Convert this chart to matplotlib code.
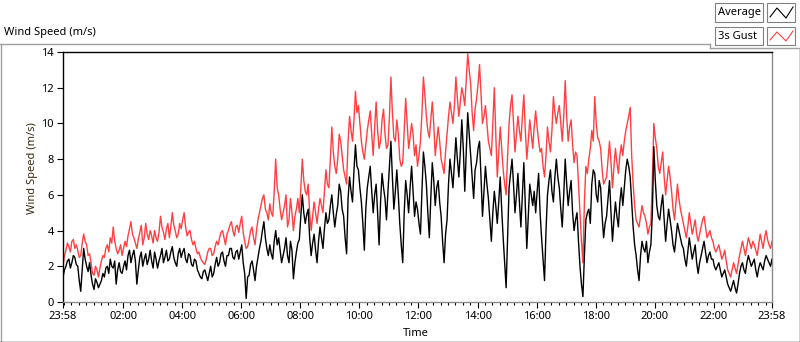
import matplotlib
matplotlib.use('Agg')
import matplotlib.pyplot as plt
import matplotlib.dates as mdates
from matplotlib.lines import Line2D
from matplotlib.patches import Rectangle
from datetime import datetime, timedelta

# ---------------- data (3-minute samples, 23:58 -> 23:58 next day) ----------------
start_time = datetime(2024, 1, 1, 23, 58)
step_minutes = 3

average = [
    1.4, 1.8, 2.0, 2.3, 2.4, 1.9, 2.2, 2.6, 2.5, 2.1, 2.0, 1.2, 0.6, 1.8, 3.0, 2.4, 2.0, 1.7, 2.2, 1.5,
    1.0, 0.7, 1.3, 1.1, 0.8, 1.0, 1.2, 1.6, 1.4, 1.9, 2.0, 1.6, 2.4, 2.0, 1.9, 2.3, 1.0, 1.8, 2.2, 1.7,
    1.6, 2.0, 2.3, 1.8, 2.6, 2.9, 2.2, 2.6, 2.9, 2.3, 1.0, 1.8, 2.5, 2.8, 2.0, 2.4, 2.7, 2.1, 2.4, 2.9,
    2.3, 1.9, 2.8, 2.4, 1.9, 2.3, 2.6, 3.0, 2.2, 2.5, 2.9, 2.3, 2.4, 2.8, 3.1, 2.5, 2.2, 2.0, 2.7, 3.0,
    2.5, 2.8, 3.0, 2.4, 2.2, 2.7, 2.6, 2.1, 2.0, 2.4, 2.3, 1.8, 1.6, 1.4, 1.3, 1.7, 1.8, 1.5, 1.2, 1.6,
    2.0, 1.4, 1.6, 2.1, 2.5, 2.0, 2.2, 2.7, 2.8, 2.3, 2.0, 2.6, 2.6, 3.0, 3.0, 2.5, 2.4, 2.8, 2.9, 2.4,
    2.8, 3.2, 2.2, 1.6, 0.2, 1.4, 1.5, 2.1, 2.3, 1.8, 1.2, 2.0, 2.5, 3.0, 3.4, 4.0, 4.5, 3.6, 3.0, 2.6,
    3.2, 2.7, 2.4, 3.4, 4.0, 3.2, 3.6, 2.9, 2.2, 2.6, 3.0, 3.6, 2.6, 2.2, 3.4, 2.9, 1.3, 2.2, 2.8, 3.3,
    3.5, 4.8, 6.0, 5.0, 4.4, 4.9, 5.2, 3.6, 2.6, 3.3, 3.8, 2.9, 2.2, 3.4, 4.2, 3.6, 3.0, 4.1, 5.0, 4.4,
    4.6, 5.4, 6.0, 5.0, 4.2, 4.9, 5.4, 6.6, 6.2, 5.2, 4.8, 3.6, 2.7, 5.8, 7.0, 6.2, 5.6, 7.4, 8.8, 7.6,
    7.4, 6.4, 5.6, 4.4, 2.9, 5.2, 6.4, 7.0, 7.6, 6.2, 5.0, 6.0, 6.6, 5.0, 3.2, 5.6, 7.2, 6.4, 5.8, 4.6,
    6.2, 7.6, 9.0, 7.0, 5.2, 6.2, 7.4, 6.0, 4.4, 3.2, 2.2, 5.0, 6.8, 6.0, 5.0, 6.4, 7.6, 6.2, 4.8, 5.6,
    5.2, 4.4, 3.8, 6.2, 8.4, 7.6, 6.6, 5.0, 3.6, 5.8, 7.8, 6.8, 5.4, 6.4, 6.8, 5.6, 4.8, 3.4, 2.2, 3.8,
    4.6, 6.6, 8.0, 7.2, 6.4, 7.8, 9.2, 8.0, 7.0, 8.4, 10.2, 8.6, 6.2, 8.4, 10.6, 9.4, 8.2, 7.0, 5.8, 7.4,
    7.8, 8.6, 9.0, 7.0, 4.8, 6.2, 7.6, 6.6, 5.8, 4.6, 3.4, 5.0, 6.2, 5.4, 4.4, 5.6, 7.0, 5.2, 3.6, 2.2,
    0.8, 3.6, 6.4, 7.2, 8.0, 6.6, 5.0, 6.0, 7.2, 5.6, 4.2, 6.0, 7.8, 5.4, 3.0, 4.8, 6.6, 6.0, 5.4, 6.2,
    5.0, 6.2, 7.2, 5.0, 3.6, 2.4, 1.2, 4.0, 6.0, 6.8, 7.4, 6.2, 5.6, 7.0, 8.0, 7.0, 6.4, 5.2, 4.2, 6.0,
    8.0, 6.6, 5.4, 6.2, 6.8, 5.0, 4.0, 4.6, 5.0, 3.4, 2.0, 1.0, 0.3, 2.6, 4.6, 5.0, 5.2, 4.4, 6.6, 7.4,
    7.2, 6.0, 5.6, 6.8, 6.4, 4.8, 3.6, 4.4, 4.8, 5.8, 6.8, 5.0, 3.4, 4.6, 5.6, 4.8, 4.2, 5.6, 6.4, 5.4,
    6.4, 7.4, 8.0, 7.6, 7.0, 5.6, 4.2, 3.2, 2.6, 1.8, 1.2, 2.6, 3.4, 3.0, 2.8, 3.4, 2.2, 2.8, 3.2, 5.0,
    8.7, 6.8, 5.4, 4.8, 4.6, 5.4, 6.0, 4.6, 3.4, 4.4, 5.2, 4.6, 4.0, 3.2, 2.8, 3.6, 4.4, 4.0, 3.6, 3.2,
    3.0, 2.4, 2.0, 2.8, 3.6, 3.0, 2.4, 2.8, 3.2, 2.2, 1.6, 2.2, 2.6, 3.0, 3.4, 2.8, 2.2, 2.6, 2.8, 2.4,
    2.4, 2.0, 1.8, 2.0, 2.2, 1.8, 1.4, 1.6, 1.8, 1.4, 1.0, 0.8, 0.6, 0.9, 1.2, 0.8, 0.5, 1.0, 1.6, 2.0,
    2.2, 1.8, 1.6, 2.2, 2.6, 2.3, 2.0, 2.2, 2.4, 1.8, 1.4, 1.9, 2.2, 2.0, 1.8, 2.3, 2.6, 2.4, 2.2, 2.0, 2.4,
]

gust_3s = [
    2.0, 2.6, 2.9, 3.3, 3.1, 2.8, 3.4, 3.5, 3.0, 3.2, 2.9, 2.5, 2.6, 3.3, 3.8, 3.4, 3.2, 2.6, 2.7, 2.2,
    1.6, 1.5, 2.0, 1.8, 1.4, 1.9, 2.3, 2.6, 2.5, 3.0, 3.2, 2.8, 3.6, 3.3, 4.2, 3.4, 3.0, 2.7, 2.9, 3.2,
    2.6, 3.0, 3.4, 3.1, 3.7, 4.1, 4.5, 3.8, 3.6, 3.3, 3.0, 3.5, 3.9, 4.3, 3.2, 3.6, 4.4, 3.8, 3.5, 4.0,
    3.7, 3.3, 4.0, 3.6, 3.4, 3.9, 4.8, 4.2, 3.9, 3.5, 4.1, 4.4, 3.6, 4.2, 5.0, 4.3, 4.0, 3.6, 3.8, 4.4,
    4.1, 4.6, 5.0, 4.2, 3.7, 3.9, 4.0, 3.5, 3.2, 3.4, 3.0, 2.7, 2.8, 2.5, 2.3, 2.2, 2.1, 2.4, 2.8, 3.0,
    3.0, 2.6, 2.7, 3.1, 3.4, 3.2, 3.6, 3.9, 4.0, 3.6, 3.2, 3.8, 4.0, 4.3, 4.5, 4.0, 3.7, 4.2, 4.3, 3.9,
    4.4, 4.8, 3.9, 3.4, 3.0, 3.1, 3.5, 4.0, 4.2, 3.6, 3.2, 4.0, 4.6, 5.0, 5.4, 5.8, 6.0, 5.2, 5.0, 4.6,
    5.5, 5.0, 4.8, 6.2, 8.0, 6.4, 6.0, 5.2, 4.6, 5.0, 5.4, 6.0, 4.2, 4.6, 5.8, 5.0, 4.0, 4.8, 5.2, 5.8,
    5.0, 6.4, 8.0, 6.8, 6.2, 6.0, 6.6, 5.0, 4.0, 4.8, 5.6, 5.0, 4.4, 5.2, 5.8, 5.4, 5.0, 6.2, 7.4, 6.6,
    6.4, 8.0, 9.8, 8.4, 7.6, 7.2, 8.0, 9.4, 9.0, 8.2, 7.4, 7.0, 6.6, 9.0, 10.4, 9.6, 9.0, 10.2, 11.8, 10.6,
    11.0, 10.0, 9.0, 8.4, 8.0, 8.8, 9.6, 10.2, 10.7, 9.4, 8.2, 9.8, 11.2, 9.6, 8.6, 9.0, 10.2, 10.8, 9.4, 8.6,
    8.8, 10.4, 12.6, 10.6, 9.2, 9.0, 10.2, 9.4, 8.0, 7.6, 7.8, 9.6, 11.4, 10.0, 8.6, 9.2, 10.0, 9.4, 8.2, 8.8,
    7.6, 8.2, 9.0, 10.6, 12.6, 11.6, 10.4, 9.6, 9.2, 10.2, 11.2, 10.0, 8.2, 9.0, 9.8, 9.0, 8.0, 7.6, 7.2, 8.4,
    9.4, 10.4, 11.2, 10.6, 10.0, 11.0, 12.6, 11.4, 10.4, 11.2, 12.0, 11.6, 11.0, 12.4, 13.9, 13.0, 12.2, 10.6, 9.6, 10.8,
    11.4, 12.2, 13.3, 11.6, 10.0, 10.4, 11.0, 10.0, 9.0, 8.6, 8.2, 10.0, 12.0, 9.4, 7.0, 8.4, 9.8, 8.6, 7.4, 6.6,
    6.0, 8.2, 10.0, 11.0, 11.6, 10.0, 8.4, 9.4, 10.4, 9.6, 9.0, 10.4, 11.6, 9.6, 8.0, 9.0, 10.2, 9.4, 8.6, 9.8,
    10.7, 9.8, 9.0, 8.4, 8.6, 7.6, 7.0, 8.2, 9.8, 9.0, 8.4, 9.6, 11.5, 10.6, 10.0, 10.6, 11.0, 10.0, 9.0, 10.4,
    12.4, 10.4, 9.0, 9.8, 10.2, 8.8, 7.8, 8.4, 8.2, 6.6, 5.0, 3.4, 2.2, 5.6, 7.6, 7.2, 8.0, 8.6, 9.6, 9.0,
    11.5, 10.0, 9.2, 9.0, 8.6, 7.4, 6.6, 6.8, 7.0, 8.0, 9.0, 7.8, 6.4, 7.6, 8.6, 7.8, 7.2, 8.2, 8.8, 8.2,
    9.0, 9.6, 10.0, 10.4, 10.9, 8.2, 6.6, 5.4, 4.6, 4.4, 4.2, 4.8, 5.4, 5.0, 4.8, 4.4, 3.8, 4.2, 4.4, 6.8,
    10.0, 9.2, 8.6, 7.6, 7.2, 7.8, 8.4, 7.0, 6.0, 6.8, 7.6, 7.0, 6.2, 5.2, 4.6, 5.6, 6.6, 5.8, 5.2, 4.8,
    4.4, 4.0, 3.6, 4.2, 5.0, 4.4, 3.8, 4.2, 4.6, 3.8, 3.4, 3.8, 4.2, 4.6, 4.8, 4.2, 3.6, 3.8, 4.0, 3.6,
    3.4, 3.0, 2.8, 3.0, 3.2, 2.8, 2.4, 2.6, 2.9, 2.3, 1.8, 1.6, 1.4, 1.8, 2.2, 1.9, 1.6, 2.1, 2.6, 3.0,
    3.4, 3.0, 2.6, 3.1, 3.6, 3.3, 3.0, 3.4, 3.2, 2.9, 2.6, 3.2, 3.8, 3.4, 3.0, 3.6, 4.0, 3.5, 3.2, 3.0, 3.4,
]

series_names = ["Average", "3s Gust"]
series_colors = ["#000000", "#ff4040"]
y_ticks = [0, 2, 4, 6, 8, 10, 12, 14]
x_tick_hours = [2, 4, 6, 8, 10, 12, 14, 16, 18, 20, 22]

times_avg = [start_time + timedelta(minutes=step_minutes * i) for i in range(len(average))]
times_gust = [start_time + timedelta(minutes=step_minutes * i) for i in range(len(gust_3s))]
end_time = start_time + timedelta(hours=24)

# ---------------- figure ----------------
W, H = 800, 342
plt.rcParams['font.family'] = ['Noto Sans', 'DejaVu Sans']
fig = plt.figure(figsize=(W / 100, H / 100), dpi=100)
fig.patch.set_facecolor('white')

def fx(px):
    return px / W

def fy(py):
    return 1 - py / H

ax = fig.add_axes([fx(63), fy(302), fx(772) - fx(63), fy(52) - fy(302)])
ax.plot(times_gust, gust_3s, color=series_colors[1], lw=1.0, zorder=2)
ax.plot(times_avg, average, color=series_colors[0], lw=1.0, zorder=3)

ax.set_ylim(0, 14)
ax.set_yticks(y_ticks)
ax.set_xlim(start_time, end_time)

major = [start_time] + [datetime(2024, 1, 2, h, 0) for h in x_tick_hours] + [end_time]
ax.set_xticks(major)
ax.xaxis.set_major_formatter(mdates.DateFormatter('%H:%M'))
minor = [datetime(2024, 1, 2, 0, 0) + timedelta(minutes=15 * k) for k in range(96)]
ax.set_xticks(minor, minor=True)

ax.tick_params(axis='y', direction='out', length=4, width=0.8, pad=2.5, labelsize=8)
ax.tick_params(axis='x', which='major', direction='out', length=4, width=0.8, pad=2.5, labelsize=8)
ax.tick_params(axis='x', which='minor', direction='out', length=2.2, width=0.8)

for s in ['top', 'left']:
    ax.spines[s].set_color('black')
    ax.spines[s].set_linewidth(1.0)
for s in ['bottom', 'right']:
    ax.spines[s].set_color('#8a8a8a')
    ax.spines[s].set_linewidth(1.0)

# texts
fig.text(fx(4), fy(32), 'Wind Speed (m/s)', ha='left', va='center', fontsize=8)
fig.text(fx(33), fy(168), 'Wind Speed (m/s)', ha='center', va='center', rotation=90, fontsize=8,
         color='#3a2a10')
fig.text(fx(416), fy(334), 'Time', ha='center', va='center', fontsize=8)

# outer frame
frame_gray = '#a0a0a0'
fig.add_artist(Line2D([fx(0), fx(710)], [fy(43.5), fy(43.5)], color=frame_gray, lw=1.0))
fig.add_artist(Line2D([fx(1), fx(1)], [fy(43.5), fy(341)], color=frame_gray, lw=1.0))
fig.add_artist(Line2D([fx(0), fx(800)], [fy(341.5), fy(341.5)], color='#202020', lw=1.0))
fig.add_artist(Line2D([fx(799.5), fx(799.5)], [fy(48), fy(342)], color='#202020', lw=1.0))
fig.add_artist(Line2D([fx(710), fx(710)], [fy(43.5), fy(48)], color=frame_gray, lw=1.0))
fig.add_artist(Line2D([fx(710), fx(800)], [fy(48), fy(48)], color=frame_gray, lw=1.0))

# legend
rows = [(3, 22), (27, 45)]
for (y0, y1), name, col in zip(rows, series_names, series_colors):
    fig.add_artist(Rectangle((fx(715), fy(y1)), fx(763) - fx(715), fy(y0) - fy(y1),
                             facecolor='white', edgecolor='#808080', lw=0.8))
    fig.text(fx(718), fy((y0 + y1) / 2 + 0.5), name, ha='left', va='center', fontsize=8)
    fig.add_artist(Rectangle((fx(767), fy(y1)), fx(795) - fx(767), fy(y0) - fy(y1),
                             facecolor='white', edgecolor='#808080', lw=0.8))
    zx = [770, 777, 786, 793]
    zy = [y1 - 5, y0 + 5, y1 - 4, y0 + 4]
    fig.add_artist(Line2D([fx(v) for v in zx], [fy(v) for v in zy], color=col, lw=0.8))

fig.savefig('out.png', dpi=100)
